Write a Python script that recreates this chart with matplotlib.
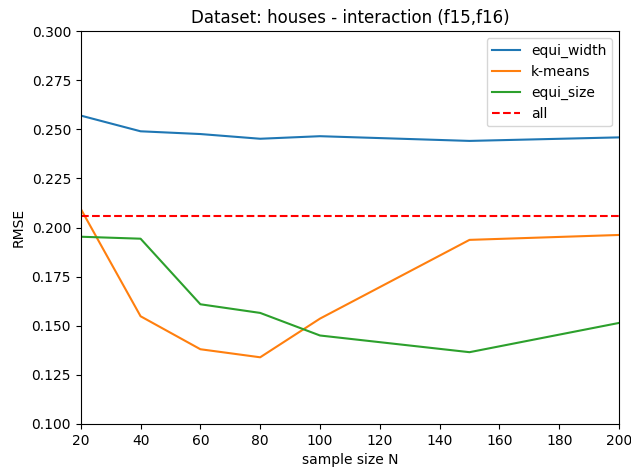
import matplotlib
matplotlib.use("Agg")
import matplotlib.pyplot as plt

# sample sizes and RMSE per binning strategy
sample_sizes = [20, 40, 60, 80, 100, 150, 200]
equi_width = [0.257, 0.249, 0.2476, 0.2452, 0.2465, 0.2441, 0.2459]
k_means = [0.2095, 0.1548, 0.1380, 0.1339, 0.1536, 0.1937, 0.1962]
equi_size = [0.1953, 0.1943, 0.1609, 0.1565, 0.1450, 0.1365, 0.1514]
all_rmse = 0.2060

fig, ax = plt.subplots(figsize=(6.31, 4.72), dpi=100)
fig.subplots_adjust(left=0.128, right=0.981, top=0.934, bottom=0.102)

ax.plot(sample_sizes, equi_width, label="equi_width")
ax.plot(sample_sizes, k_means, label="k-means")
ax.plot(sample_sizes, equi_size, label="equi_size")
ax.plot([sample_sizes[0], sample_sizes[-1]], [all_rmse, all_rmse],
        "r--", label="all")

ax.set_xlim(20, 200)
ax.set_ylim(0.1, 0.3)
ax.set_xlabel("sample size N")
ax.set_ylabel("RMSE")
ax.set_title("Dataset: houses - interaction (f15,f16)")
ax.legend(loc="upper right")

fig.savefig("out.png")
